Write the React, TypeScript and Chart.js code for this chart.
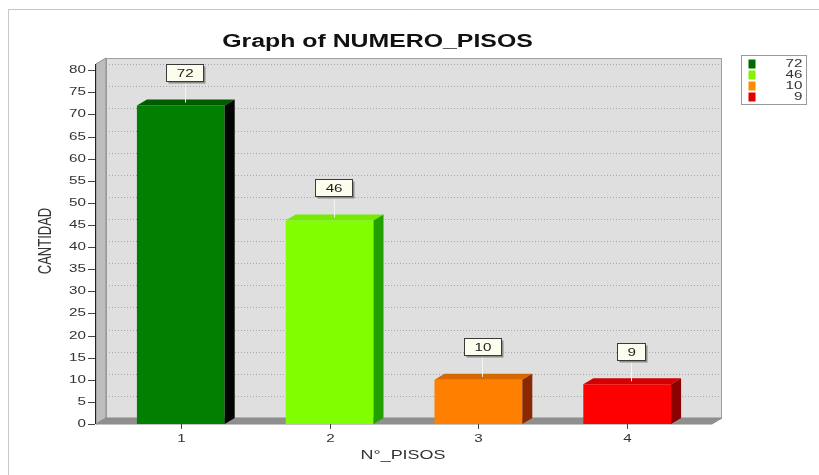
import { useEffect, useRef } from "react";
import { Chart, registerables } from "chart.js";

Chart.register(...registerables);

// ---- data ----
const categories = [1, 2, 3, 4];
const categoryLabels = ["1", "2", "3", "4"];
const counts = [72, 46, 10, 9];
const yTicks = [0, 5, 10, 15, 20, 25, 30, 35, 40, 45, 50, 55, 60, 65, 70, 75, 80];
const yMax = 81.4;
const xMin = 0.43;
const xMax = 4.57;

const chartTitle = "Graph of NUMERO_PISOS";
const xTitle = "N°_PISOS";
const yTitle = "CANTIDAD";

// ---- styles ----
const frontColors = ["#007f00", "#80ff00", "#ff8000", "#ff0000"];
const sideColors = ["#020402", "#22a000", "#8c2800", "#8c0000"];
const topColors = ["#005c00", "#74ec00", "#d66800", "#d20000"];
const legendColors = ["#006c00", "#86f000", "#ff8c00", "#e00000"];

const DX = 10; // depth offset to the right
const DY = 6; // depth offset upwards
const SX = 1.38; // horizontal text stretch
const FONT = '"Liberation Sans", Arial, sans-serif';

type TextOpts = {
  size: number;
  bold?: boolean;
  color?: string;
  align?: CanvasTextAlign;
  baseline?: CanvasTextBaseline;
  rotate?: boolean;
};

function drawText(ctx: CanvasRenderingContext2D, text: string, x: number, y: number, o: TextOpts) {
  ctx.save();
  ctx.translate(x, y);
  if (o.rotate) {
    ctx.rotate(-Math.PI / 2);
    ctx.scale(1, SX);
  } else {
    ctx.scale(SX, 1);
  }
  ctx.font = `${o.bold ? "bold " : ""}${o.size}px ${FONT}`;
  ctx.fillStyle = o.color || "#333";
  ctx.textAlign = o.align || "center";
  ctx.textBaseline = o.baseline || "middle";
  ctx.fillText(text, 0, 0);
  ctx.restore();
}

function textWidth(ctx: CanvasRenderingContext2D, text: string, size: number, bold = false) {
  ctx.save();
  ctx.font = `${bold ? "bold " : ""}${size}px ${FONT}`;
  const w = ctx.measureText(text).width * SX;
  ctx.restore();
  return w;
}

function poly(ctx: CanvasRenderingContext2D, pts: number[][], fill: string, stroke?: string) {
  ctx.beginPath();
  ctx.moveTo(pts[0][0], pts[0][1]);
  for (let i = 1; i < pts.length; i++) ctx.lineTo(pts[i][0], pts[i][1]);
  ctx.closePath();
  ctx.fillStyle = fill;
  ctx.fill();
  if (stroke) {
    ctx.strokeStyle = stroke;
    ctx.lineWidth = 1;
    ctx.stroke();
  }
}

const depthPlugin = {
  id: "depth3d",
  beforeDatasetsDraw(chart: any) {
    const { ctx, chartArea: a, scales } = chart;
    const ys = scales.y;
    const w = a.right - a.left;
    const h = a.bottom - a.top;
    ctx.save();

    // outer frame
    ctx.strokeStyle = "#c6c6c6";
    ctx.lineWidth = 1;
    ctx.beginPath();
    ctx.moveTo(8.5, 475);
    ctx.lineTo(8.5, 9.5);
    ctx.lineTo(819, 9.5);
    ctx.stroke();

    // back wall
    ctx.fillStyle = "#dfdfdf";
    ctx.fillRect(a.left + DX, a.top - DY, w, h);

    // dotted gridlines on the back wall
    ctx.setLineDash([1, 2]);
    ctx.strokeStyle = "#a6a6a6";
    for (const v of yTicks) {
      if (v === 0) continue;
      const py = Math.round(ys.getPixelForValue(v) - DY) + 0.5;
      ctx.beginPath();
      ctx.moveTo(a.left + DX, py);
      ctx.lineTo(a.right + DX, py);
      ctx.stroke();
    }
    ctx.setLineDash([]);
    ctx.strokeStyle = "#a0a0a0";
    ctx.strokeRect(a.left + DX + 0.5, a.top - DY + 0.5, w - 1, h);

    // left wall
    poly(
      ctx,
      [
        [a.left, a.top],
        [a.left + DX, a.top - DY],
        [a.left + DX, a.bottom - DY],
        [a.left, a.bottom],
      ],
      "#bdbdbd",
      "#8e8e8e"
    );

    // floor
    poly(
      ctx,
      [
        [a.left, a.bottom],
        [a.left + DX, a.bottom - DY],
        [a.right + DX, a.bottom - DY],
        [a.right, a.bottom],
      ],
      "#8f8f8f",
      "#8a8a8a"
    );

    // y axis line and tick marks
    ctx.strokeStyle = "#222";
    ctx.beginPath();
    ctx.moveTo(a.left - 0.5, a.top);
    ctx.lineTo(a.left - 0.5, a.bottom);
    ctx.stroke();
    ctx.strokeStyle = "#444";
    for (const v of yTicks) {
      const py = Math.round(ys.getPixelForValue(v)) + 0.5;
      ctx.beginPath();
      ctx.moveTo(a.left - 8, py);
      ctx.lineTo(a.left - 1, py);
      ctx.stroke();
    }
    ctx.restore();
  },

  afterDatasetsDraw(chart: any) {
    const { ctx } = chart;
    const meta = chart.getDatasetMeta(0);
    ctx.save();
    meta.data.forEach((el: any, i: number) => {
      const { x, y, base, width } = el.getProps(["x", "y", "base", "width"], true);
      const x0 = x - width / 2;
      const x1 = x + width / 2;
      // top face
      poly(ctx, [
        [x0, y],
        [x0 + DX, y - DY],
        [x1 + DX, y - DY],
        [x1, y],
      ], topColors[i]);
      // side face
      poly(ctx, [
        [x1, y],
        [x1 + DX, y - DY],
        [x1 + DX, base - DY],
        [x1, base],
      ], sideColors[i]);
    });
    ctx.restore();
  },

  afterDraw(chart: any) {
    const { ctx, chartArea: a, scales } = chart;
    const ys = scales.y;
    const xs = scales.x;
    const meta = chart.getDatasetMeta(0);
    ctx.save();

    // x tick marks and labels
    categories.forEach((c, i) => {
      const px = Math.round(xs.getPixelForValue(c)) + 0.5;
      ctx.strokeStyle = "#444";
      ctx.beginPath();
      ctx.moveTo(px, a.bottom);
      ctx.lineTo(px, a.bottom + 5);
      ctx.stroke();
      drawText(ctx, categoryLabels[i], px, a.bottom + 15, { size: 11, color: "#333" });
    });

    // y tick labels
    for (const v of yTicks) {
      drawText(ctx, String(v), a.left - 10, ys.getPixelForValue(v), { size: 11, color: "#333", align: "right" });
    }

    // value labels above each bar
    meta.data.forEach((el: any, i: number) => {
      const { x, y } = el.getProps(["x", "y"], true);
      const label = String(counts[i]);
      const cx = x + 4;
      const cy = y - 33;
      const bw = Math.round(textWidth(ctx, label, 11) + 20);
      const bh = 17;
      const bx = Math.round(cx - bw / 2) + 0.5;
      const by = Math.round(cy - bh / 2) + 0.5;
      // connector
      ctx.strokeStyle = "#f4f4f4";
      ctx.lineWidth = 1;
      ctx.beginPath();
      ctx.moveTo(Math.round(cx) + 0.5, by + bh);
      ctx.lineTo(Math.round(cx) + 0.5, y - 3);
      ctx.stroke();
      // shadow
      ctx.fillStyle = "#8c8c8c";
      ctx.fillRect(bx + 2, by + 2, bw, bh);
      // box
      ctx.fillStyle = "#fdfdee";
      ctx.fillRect(bx, by, bw, bh);
      ctx.strokeStyle = "#3a3a3a";
      ctx.strokeRect(bx, by, bw, bh);
      drawText(ctx, label, cx + 0.5, by + bh / 2 + 0.5, { size: 11, color: "#222" });
    });

    // axis titles
    drawText(ctx, xTitle, (a.left + a.right) / 2 - 1, a.bottom + 31, { size: 13, color: "#333" });
    drawText(ctx, yTitle, 46, (a.top + a.bottom) / 2 - 3, { size: 13, color: "#333", rotate: true });

    // chart title
    drawText(ctx, chartTitle, 377.5, 47, { size: 18, bold: true, color: "#111", baseline: "alphabetic" });

    // legend
    const lx = 741.5;
    const ly = 55.5;
    const lw = 65;
    const rowH = 11;
    const lh = rowH * counts.length + 5;
    ctx.fillStyle = "#ffffff";
    ctx.fillRect(lx, ly, lw, lh);
    ctx.strokeStyle = "#9a9a9a";
    ctx.strokeRect(lx, ly, lw, lh);
    counts.forEach((v, i) => {
      const ry = ly + 8 + i * rowH;
      ctx.fillStyle = legendColors[i];
      ctx.fillRect(lx + 7, ry - 4, 7, 9);
      drawText(ctx, String(v), lx + lw - 4, ry + 0.5, { size: 11, color: "#333", align: "right" });
    });

    ctx.restore();
  },
};

export default function App() {
  const canvasRef = useRef<HTMLCanvasElement | null>(null);

  useEffect(() => {
    const canvas = canvasRef.current;
    if (!canvas) return;
    const chart = new Chart(canvas, {
      type: "bar",
      data: {
        datasets: [
          {
            label: yTitle,
            data: categories.map((c, i) => ({ x: c, y: counts[i] })),
            backgroundColor: frontColors,
            borderWidth: 0,
            categoryPercentage: 1,
            barPercentage: 0.59,
          },
        ],
      },
      options: {
        responsive: false,
        animation: false,
        devicePixelRatio: 1,
        layout: { padding: { left: 96, right: 107, top: 64, bottom: 51 } },
        scales: {
          x: {
            type: "linear",
            min: xMin,
            max: xMax,
            offset: false,
            display: false,
            ticks: { stepSize: 1, includeBounds: false },
          },
          y: {
            type: "linear",
            min: 0,
            max: yMax,
            display: false,
            ticks: { stepSize: 5, includeBounds: false },
          },
        },
        plugins: {
          legend: { display: false },
          title: { display: false },
          tooltip: { enabled: false },
        },
      },
      plugins: [depthPlugin],
    });
    return () => chart.destroy();
  }, []);

  return (
    <div style={{ position: "fixed", left: 0, top: 0, width: 819, height: 475, background: "#fff" }}>
      <canvas ref={canvasRef} width={819} height={475} style={{ display: "block" }} />
    </div>
  );
}
